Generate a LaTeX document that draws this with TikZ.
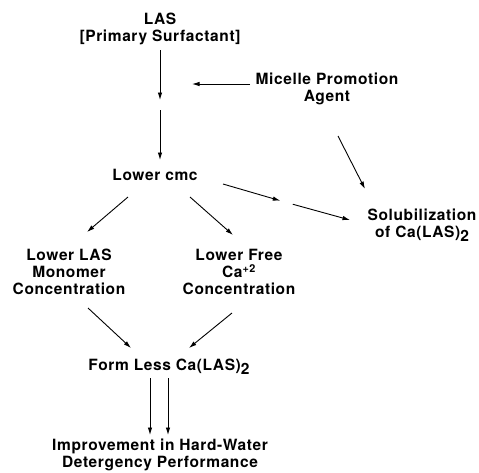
\documentclass[tikz,border=0pt]{standalone}
\usepackage{fontspec}
\setmainfont{TeX Gyre Heros}[LetterSpace=4]
\usepackage{tikz}
\usetikzlibrary{arrows.meta}
\tikzset{
  term/.style={align=center, inner sep=2pt, font=\fontsize{15.5}{17}\selectfont\bfseries},
  arrow/.style={-{Latex[length=7.5pt, width=4.5pt]}, line width=0.9pt, draw=black},
}
\newcommand{\calas}{Ca(LAS)\raisebox{-0.5ex}{2}}

\begin{document}
\begin{tikzpicture}[x=1pt, y=-1pt]
  \useasboundingbox[fill=white] (0,0) rectangle (479,472);
  % Primary surfactant
  \node[term] (las) at (160,28.5) {LAS\\{[}Primary Surfactant{]}};
  \coordinate (join) at (160,105);
  % Micelle promotion agent
  \node[term] (agent) at (327,88.5) {Micelle Promotion\\Agent};
  \coordinate (agentin) at (192,84);
  % cmc and its effects
  \node[term] (cmc) at (155,175) {Lower cmc};
  \coordinate (mid) at (286.5,202.5);
  \node[term] (solub) at (422,225) {Solubilization\\of \calas};
  \node[term] (monomer) at (69,272) {Lower LAS\\Monomer\\Concentration};
  \node[term] (free) at (239,272) {Lower Free\\Ca\textsuperscript{+2}\\Concentration};
  \node[term] (form) at (169,367) {Form Less \calas};
  \node[term] (improve) at (160,455) {Improvement in Hard-Water\\Detergency Performance};

  % Edges
  \draw[arrow] ([shift={(0,21.5)}]las.center) -- ([shift={(0,-5)}]join);
  \draw[arrow] ([shift={(0,5)}]join) -- ([shift={(5,-15)}]cmc.center);
  \draw[arrow] ([shift={(-77,-4.5)}]agent.center) -- (agentin);
  \draw[arrow] ([shift={(11,47.5)}]agent.center) -- ([shift={(-57,-36)}]solub.center);
  \draw[arrow] ([shift={(-27,22)}]cmc.center) -- ([shift={(18,-40)}]monomer.center);
  \draw[arrow] ([shift={(35,22)}]cmc.center) -- ([shift={(-6,-37)}]free.center);
  \draw[arrow, shorten >=6.5pt] ([shift={(68,9)}]cmc.center) -- (mid);
  \draw[arrow, shorten <=6.5pt] (mid) -- ([shift={(-72,-5)}]solub.center);
  \draw[arrow] ([shift={(19,36)}]monomer.center) -- ([shift={(-38,-19)}]form.center);
  \draw[arrow] ([shift={(-7,41)}]free.center) -- ([shift={(20,-19)}]form.center);
  \draw[arrow] ([shift={(-19,11)}]form.center) -- ([shift={(-10,-20)}]improve.center);
  \draw[arrow] ([shift={(-1,11)}]form.center) -- ([shift={(8,-20)}]improve.center);
\end{tikzpicture}
\end{document}
